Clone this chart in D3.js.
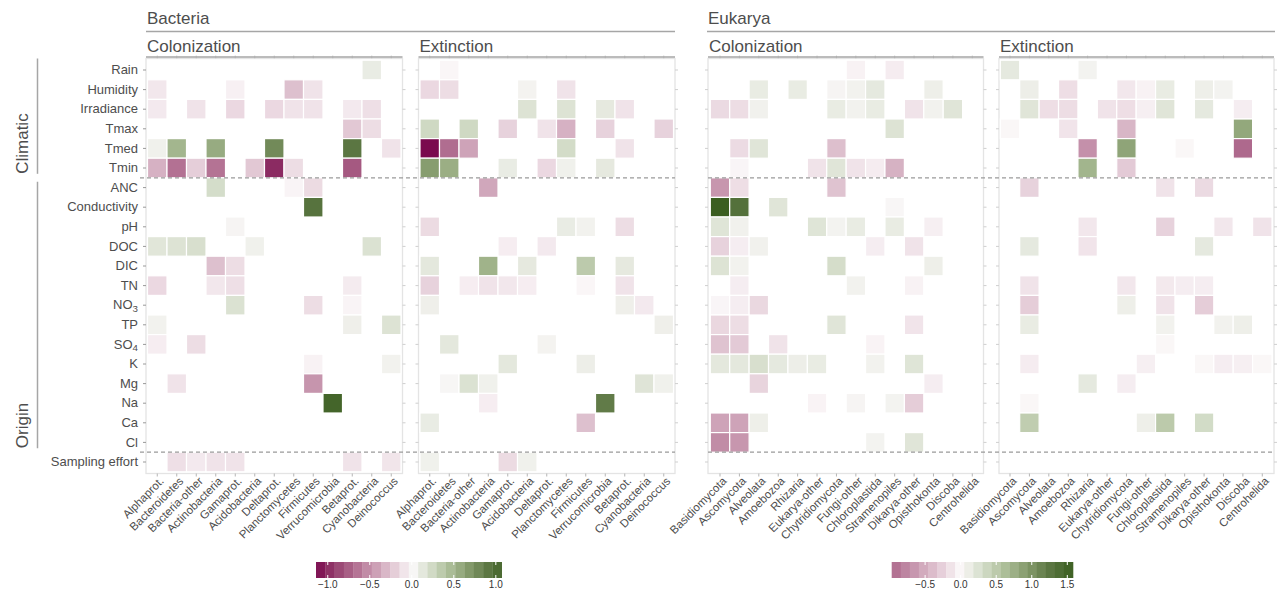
<!DOCTYPE html>
<html>
<head>
<meta charset="utf-8">
<script src="https://cdn.jsdelivr.net/npm/d3@7"></script>
<style>
  body { margin: 0; background: #fff; }
  svg { display: block; font-family: "Liberation Sans", Arial, Helvetica, sans-serif; }
</style>
</head>
<body>
<svg id="chart" width="1281" height="591"></svg>
<script>
// ---- categories ----
const rowLabels = ["Rain", "Humidity", "Irradiance", "Tmax", "Tmed", "Tmin",
  "ANC", "Conductivity", "pH", "DOC", "DIC", "TN", "NO3", "TP", "SO4", "K",
  "Mg", "Na", "Ca", "Cl", "Sampling effort"];

const bacteriaTaxa = ["Alphaprot.", "Bacteroidetes", "Bacteria-other", "Actinobacteria",
  "Gamaprot.", "Acidobacteria", "Deltaprot.", "Planctomycetes", "Firmicutes",
  "Verrucomicrobia", "Betaprot.", "Cyanobacteria", "Deinococcus"];

const eukaryaTaxa = ["Basidiomycota", "Ascomycota", "Alveolata", "Amoebozoa", "Rhizaria",
  "Eukarya-other", "Chytridiomycota", "Fungi-other", "Chloroplastida", "Stramenopiles",
  "Dikarya-other", "Opisthokonta", "Discoba", "Centrohelida"];

const climaticRows = ["Rain", "Humidity", "Irradiance", "Tmax", "Tmed", "Tmin"];
const originRows = ["ANC", "Conductivity", "pH", "DOC", "DIC", "TN", "NO3", "TP", "SO4", "K", "Mg", "Na", "Ca", "Cl"];

const bacteriaLegendTicks = [-1.0, -0.5, 0.0, 0.5, 1.0];
const eukaryaLegendTicks = [-0.5, 0.0, 0.5, 1.0, 1.5];

// ---- effect sizes (one row per predictor, one column per taxon; _ = not selected) ----
const _ = null;

const bacteriaColonization = [
  [_, _, _, _, _, _, _, _, _, _, _, 0.10, _],
  [-0.08, _, _, _, -0.04, _, _, -0.27, -0.10, _, _, _, _],
  [-0.07, _, -0.10, _, -0.15, _, -0.15, -0.10, -0.10, _, -0.07, -0.12, _],
  [_, _, _, _, _, _, _, _, _, _, -0.23, -0.13, _],
  [0.06, 0.50, _, 0.57, _, _, 0.78, _, _, _, 0.91, _, -0.10],
  [-0.34, -0.66, -0.20, -0.65, _, -0.23, -1.00, -0.13, _, _, -0.78, _, _],
  [_, _, _, 0.22, _, _, _, -0.02, -0.14, _, _, _, _],
  [_, _, _, _, _, _, _, _, 0.94, _, _, _, _],
  [_, _, _, _, 0.03, _, _, _, _, _, _, _, _],
  [0.15, 0.17, 0.20, _, _, 0.06, _, _, _, _, _, 0.18, _],
  [_, _, _, -0.27, -0.13, _, _, _, _, _, _, _, _],
  [-0.15, _, _, -0.08, -0.12, _, _, _, _, _, -0.06, _, _],
  [_, _, _, _, 0.18, _, _, _, -0.13, _, -0.02, _, _],
  [0.05, _, _, _, _, _, _, _, _, _, 0.07, _, 0.17],
  [-0.05, _, -0.13, _, _, _, _, _, _, _, _, _, _],
  [_, _, _, _, _, _, _, _, -0.03, _, _, _, 0.05],
  [_, -0.10, _, _, _, _, _, _, -0.48, _, _, _, _],
  [_, _, _, _, _, _, _, _, _, 1.07, _, _, _],
  [_, _, _, _, _, _, _, _, _, _, _, _, _],
  [_, _, _, _, _, _, _, _, _, _, _, _, _],
  [_, -0.12, -0.07, -0.10, -0.10, _, _, _, _, _, -0.10, _, -0.09]
];

const bacteriaExtinction = [
  [_, -0.01, _, _, _, _, _, _, _, _, _, _, _],
  [-0.15, -0.13, _, _, _, 0.04, _, -0.10, _, _, _, _, _],
  [_, _, _, _, _, 0.17, _, 0.17, _, 0.12, -0.10, _, _],
  [0.25, _, 0.25, _, -0.18, _, -0.10, -0.34, _, -0.18, _, _, -0.18],
  [-1.14, -0.68, -0.41, _, _, _, _, 0.23, _, _, -0.10, _, _],
  [0.66, 0.55, _, _, 0.10, _, -0.15, 0.06, _, 0.12, _, _, _],
  [_, _, _, -0.39, _, _, _, _, _, _, _, _, _],
  [_, _, _, _, _, _, _, _, _, _, _, _, _],
  [-0.14, _, _, _, _, _, _, 0.10, 0.05, _, -0.13, _, _],
  [_, _, _, _, -0.05, _, -0.07, _, _, _, _, _, _],
  [0.13, _, _, 0.52, _, 0.12, _, _, 0.36, _, 0.12, _, _],
  [-0.18, _, -0.05, -0.10, -0.08, -0.05, _, _, -0.01, _, -0.10, _, _],
  [0.07, _, _, _, _, _, _, _, _, _, 0.07, -0.07, _],
  [_, _, _, _, _, _, _, _, _, _, _, _, 0.07],
  [_, 0.13, _, _, _, _, 0.04, _, _, _, _, _, _],
  [_, _, _, _, 0.13, _, _, _, 0.08, _, _, _, _],
  [_, 0.02, 0.18, 0.06, _, _, _, _, _, _, _, 0.16, 0.06],
  [_, _, _, -0.05, _, _, _, _, _, 0.88, _, _, _],
  [0.10, _, _, _, _, _, _, _, -0.27, _, _, _, _],
  [_, _, _, _, _, _, _, _, _, _, _, _, _],
  [0.06, _, _, _, -0.14, 0.06, _, _, _, _, _, _, _]
];

const eukaryaColonization = [
  [_, _, _, _, _, _, _, -0.04, _, -0.08, _, _, _, _],
  [_, _, 0.14, _, 0.14, _, 0.04, 0.07, 0.17, _, _, 0.10, _, _],
  [-0.20, -0.18, 0.08, _, _, _, 0.14, 0.07, 0.14, _, -0.14, 0.07, 0.21, _],
  [_, _, _, _, _, _, _, _, _, 0.24, _, _, _, _],
  [_, -0.19, 0.21, _, _, _, -0.38, _, _, _, _, _, _, _],
  [_, -0.02, _, _, _, -0.14, 0.21, -0.14, -0.08, -0.47, _, _, _, _],
  [-0.66, -0.17, _, _, _, _, -0.35, _, _, _, _, _, _, _],
  [1.58, 1.33, _, 0.21, _, _, _, _, _, 0.02, _, _, _, _],
  [0.22, 0.08, _, _, _, 0.22, 0.06, 0.14, _, 0.14, _, -0.06, _, _],
  [-0.25, -0.07, 0.08, _, _, _, _, _, -0.07, _, -0.14, _, _, _],
  [0.24, 0.07, _, _, _, _, 0.30, _, _, _, _, 0.10, _, _],
  [_, -0.07, _, _, _, _, _, 0.07, _, _, -0.04, _, _, _],
  [-0.02, -0.07, -0.21, _, _, _, _, _, _, _, _, _, _, _],
  [-0.22, -0.18, _, _, _, _, 0.21, _, _, _, -0.13, _, _, _],
  [-0.35, -0.30, _, -0.14, _, _, _, _, -0.03, _, _, _, _, _],
  [0.18, 0.18, 0.28, 0.17, 0.11, 0.14, _, _, 0.07, _, 0.22, _, _, _],
  [_, _, -0.24, _, _, _, _, _, _, _, _, -0.07, _, _],
  [_, _, _, _, _, -0.03, _, 0.04, _, 0.06, -0.28, _, _, _],
  [-0.57, -0.57, 0.10, _, _, _, _, _, _, _, _, _, _, _],
  [-0.73, -0.66, _, _, _, _, _, _, 0.06, _, 0.21, _, _, _],
  [_, _, _, _, _, _, _, _, _, _, _, _, _, _]
];

const eukaryaExtinction = [
  [0.17, _, _, _, 0.06, _, _, _, _, _, _, _, _, _],
  [_, 0.11, _, -0.17, _, _, -0.11, -0.04, 0.14, _, 0.10, 0.06, _, _],
  [_, 0.21, -0.17, -0.18, _, -0.14, -0.17, -0.06, 0.21, _, 0.17, _, -0.07, _],
  [0.01, _, _, -0.13, _, _, -0.44, _, _, _, _, _, 0.82, _],
  [_, _, _, _, -0.70, _, 0.85, _, _, 0.01, _, _, -0.97, _],
  [_, _, _, _, 0.70, _, -0.30, _, _, _, _, _, _, _],
  [_, -0.25, _, _, _, _, _, _, -0.14, _, -0.20, _, _, _],
  [_, _, _, _, _, _, _, _, _, _, _, _, _, _],
  [_, _, _, _, -0.11, _, _, _, -0.25, _, _, -0.11, _, -0.14],
  [_, 0.17, _, _, -0.13, _, _, _, _, _, 0.17, _, _, _],
  [_, _, _, _, _, _, _, _, _, _, _, _, _, _],
  [_, -0.14, _, _, _, _, -0.11, _, -0.10, -0.07, -0.07, _, _, _],
  [_, -0.28, _, _, _, _, 0.10, _, -0.14, _, -0.28, _, _, _],
  [_, 0.14, _, _, _, _, _, _, 0.07, _, _, 0.07, 0.10, _],
  [_, _, _, _, _, _, _, _, 0.01, _, _, _, _, _],
  [_, -0.08, _, _, _, _, _, -0.06, _, _, 0.01, -0.07, -0.06, 0.01],
  [_, _, _, _, 0.17, _, -0.07, _, _, _, _, _, _, _],
  [_, 0.01, _, _, _, _, _, _, _, _, _, _, _, _],
  [_, 0.47, _, _, _, _, _, 0.10, 0.50, _, 0.32, _, _, _],
  [_, _, _, _, _, _, _, _, _, _, _, _, _, _],
  [_, _, _, _, _, _, _, _, _, _, _, _, _, _]
];

// ---- diverging palette (magenta - white - green) ----
const paletteStops = ["#7a0a4e", "#95406e", "#b06c8f", "#c99ab1", "#e2c8d4", "#fbf8f9",
  "#d3dcc8", "#abbd97", "#83996a", "#5b7642", "#3a5e20"];

function makeColor(values) {
  const ext = d3.extent(values);
  const m = Math.max(Math.abs(ext[0]), Math.abs(ext[1]));
  const s = d3.scaleLinear()
    .domain(d3.range(paletteStops.length).map(i => -m + 2 * m * i / (paletteStops.length - 1)))
    .range(paletteStops)
    .interpolate(d3.interpolateRgb)
    .clamp(true);
  s.extent = ext;
  return s;
}

const flat = arrs => arrs.flatMap(a => a.flat()).filter(v => v !== null);
const bacteriaColor = makeColor(flat([bacteriaColonization, bacteriaExtinction]));
const eukaryaColor = makeColor(flat([eukaryaColonization, eukaryaExtinction]));

// ---- layout ----
const svg = d3.select("#chart");
const textColor = "#4d4d4d";
const rowTop = 60.2, rowBottom = 471.8;
const boxTop = 58.5, boxBottom = 473.5;

const y = d3.scaleBand().domain(rowLabels).range([rowTop, rowBottom]).padding(0);

const panels = [
  { name: "Colonization", data: bacteriaColonization, taxa: bacteriaTaxa, color: bacteriaColor, box: [146, 402.5], inner: [147.5, 401], yAxis: true },
  { name: "Extinction", data: bacteriaExtinction, taxa: bacteriaTaxa, color: bacteriaColor, box: [418.5, 675], inner: [420, 673.5] },
  { name: "Colonization", data: eukaryaColonization, taxa: eukaryaTaxa, color: eukaryaColor, box: [708, 983.5], inner: [710.3, 982] },
  { name: "Extinction", data: eukaryaExtinction, taxa: eukaryaTaxa, color: eukaryaColor, box: [999, 1274], inner: [1000.3, 1272] }
];

function labelWithSub(sel, label) {
  const m = /^(NO|SO)(\d)$/.exec(label);
  sel.text(null);
  if (m) {
    sel.append("tspan").text(m[1]);
    sel.append("tspan").attr("dy", "0.3em").attr("font-size", "0.75em").text(m[2]);
  } else {
    sel.text(label);
  }
}

panels.forEach(p => {
  const x = d3.scaleBand().domain(p.taxa).range(p.inner).padding(0);
  const g = svg.append("g");

  // panel frame
  g.append("rect")
    .attr("x", p.box[0]).attr("y", boxTop)
    .attr("width", p.box[1] - p.box[0]).attr("height", boxBottom - boxTop)
    .attr("fill", "#fff").attr("stroke", "#e4e4e4").attr("stroke-width", 1.3);

  // tiles
  const cells = [];
  p.data.forEach((row, i) => row.forEach((v, j) => {
    if (v !== null) cells.push({ row: rowLabels[i], taxon: p.taxa[j], v });
  }));
  g.selectAll("rect.cell").data(cells).join("rect")
    .attr("class", "cell")
    .attr("x", d => x(d.taxon)).attr("y", d => y(d.row))
    .attr("width", x.bandwidth()).attr("height", y.bandwidth())
    .attr("fill", d => p.color(d.v))
    .attr("stroke", "#fff").attr("stroke-width", 1.2);

  // frame ticks on all sides
  const tickCol = "#cfcfcf";
  const frameAxes = [
    [d3.axisTop(x), `translate(0,${boxTop})`],
    [d3.axisRight(y), `translate(${p.box[1]},0)`],
    [d3.axisLeft(y), `translate(${p.box[0]},0)`]
  ];
  frameAxes.forEach(([ax, tr], k) => {
    if (k === 2 && p.yAxis) return;
    const a = g.append("g").attr("transform", tr)
      .call(ax.tickSize(3).tickFormat(""));
    a.select(".domain").remove();
    a.selectAll("line").attr("stroke", tickCol);
  });

  // bottom axis with rotated taxon labels
  const xb = g.append("g").attr("transform", `translate(0,${boxBottom})`)
    .call(d3.axisBottom(x).tickSize(3));
  xb.select(".domain").remove();
  xb.selectAll("line").attr("stroke", "#b5b5b5");
  xb.selectAll("text")
    .attr("fill", textColor).attr("font-size", 11.5)
    .attr("text-anchor", "end")
    .attr("transform", "translate(-3,-2) rotate(-45)")
    .attr("dy", "0.75em");

  // left axis with predictor names
  if (p.yAxis) {
    const ya = g.append("g").attr("transform", `translate(${p.box[0]},0)`)
      .call(d3.axisLeft(y).tickSize(3).tickPadding(5));
    ya.select(".domain").remove();
    ya.selectAll("line").attr("stroke", "#999");
    ya.selectAll("text").attr("fill", textColor).attr("font-size", 13)
      .each(function (d) { labelWithSub(d3.select(this), d); });
  }

  // facet title
  svg.append("text").attr("x", p.box[0] + 1).attr("y", 52)
    .attr("fill", textColor).attr("font-size", 17).text(p.name);
  svg.append("line").attr("x1", p.box[0]).attr("x2", p.box[1])
    .attr("y1", 57).attr("y2", 57).attr("stroke", "#a6a6a6").attr("stroke-width", 1.5);
});

// kingdom titles
[["Bacteria", 146, 675], ["Eukarya", 707, 1275]].forEach(([t, a, b]) => {
  svg.append("text").attr("x", a + 1).attr("y", 24).attr("fill", textColor)
    .attr("font-size", 17).text(t);
  svg.append("line").attr("x1", a).attr("x2", b).attr("y1", 31.5).attr("y2", 31.5)
    .attr("stroke", "#a6a6a6").attr("stroke-width", 1.5);
});

// group separators
const sep1 = y(originRows[0]);
const sep2 = y("Sampling effort");
[[140, 675], [708, 1275]].forEach(([a, b]) => {
  [sep1, sep2].forEach(yy => {
    svg.append("line").attr("x1", a).attr("x2", b).attr("y1", yy).attr("y2", yy)
      .attr("stroke", "#9a9a9a").attr("stroke-width", 1.2).attr("stroke-dasharray", "4,3");
  });
});

// predictor group brackets
[["Climatic", boxTop, sep1 - 4], ["Origin", sep1 + 4, sep2 - 4]].forEach(([t, a, b]) => {
  svg.append("line").attr("x1", 37.5).attr("x2", 37.5).attr("y1", a).attr("y2", b)
    .attr("stroke", "#a6a6a6").attr("stroke-width", 1.5);
  svg.append("text").attr("transform", `translate(28,${b}) rotate(-90)`)
    .attr("fill", textColor).attr("font-size", 17).text(t);
});

// colour legends
function legend(color, x0, x1, ticks) {
  const [lo, hi] = color.extent;
  const lx = d3.scaleLinear().domain([lo, hi]).range([x0, x1]);
  const n = 20, top = 562, h = 16;
  const steps = d3.range(n).map(i => lo + (hi - lo) * (i + 0.5) / n);
  const g = svg.append("g");
  g.selectAll("rect").data(steps).join("rect")
    .attr("x", (d, i) => x0 + (x1 - x0) * i / n)
    .attr("y", top)
    .attr("width", (x1 - x0) / n + 0.3)
    .attr("height", h)
    .attr("fill", d => color(d));
  ticks.forEach(t => {
    const tx = lx(t);
    g.append("line").attr("x1", tx).attr("x2", tx).attr("y1", top).attr("y2", top + 3)
      .attr("stroke", "#fff").attr("stroke-width", 1);
    g.append("line").attr("x1", tx).attr("x2", tx).attr("y1", top + h - 3).attr("y2", top + h)
      .attr("stroke", "#fff").attr("stroke-width", 1);
    g.append("text").attr("x", tx).attr("y", 588).attr("text-anchor", "middle")
      .attr("font-size", 10).attr("fill", "#333")
      .text(d3.format(".1f")(t).replace("-", "\u2212"));
  });
}
legend(bacteriaColor, 316, 501.7, bacteriaLegendTicks);
legend(eukaryaColor, 891.7, 1073, eukaryaLegendTicks);
</script>
</body>
</html>
